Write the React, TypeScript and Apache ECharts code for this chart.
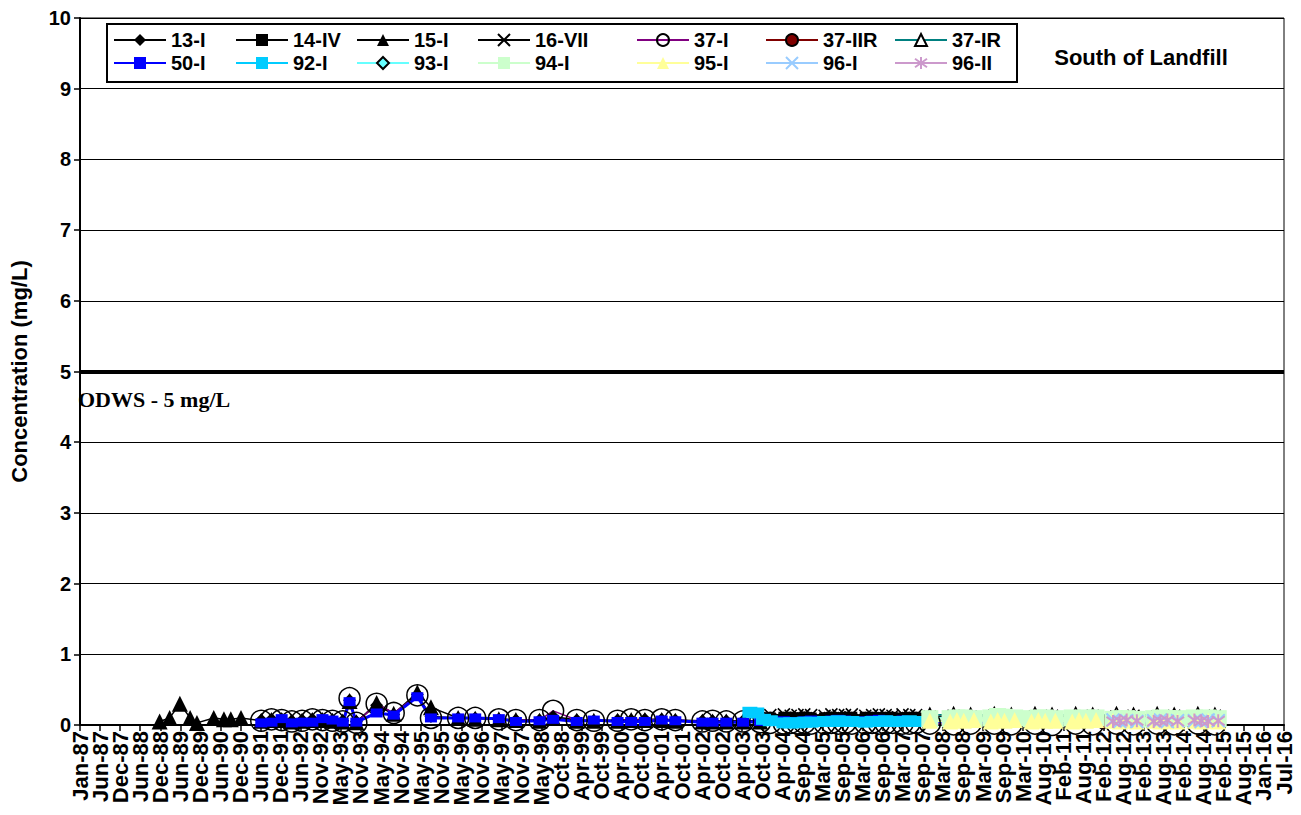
import React, { useEffect, useRef } from "react";
import * as echarts from "echarts";

// ---------- axis definitions ----------
const AXIS_ORIGIN = Date.UTC(1987, 0, 1);
const DAY_MS = 86400000;
const X_STEP_DAYS = 180;
const X_MAX_DAYS = 10800; // Jul-16
const Y_MAX = 10;
const ODWS_LIMIT = 5;
const xTickLabels = [
  "Jan-87", "Jun-87", "Dec-87", "Jun-88", "Dec-88", "Jun-89", "Dec-89", "Jun-90", "Dec-90", "Jun-91",
  "Dec-91", "Jun-92", "Nov-92", "May-93", "Nov-93", "May-94", "Nov-94", "May-95", "Nov-95", "May-96",
  "Nov-96", "May-97", "Nov-97", "May-98", "Oct-98", "Apr-99", "Oct-99", "Apr-00", "Oct-00", "Apr-01",
  "Oct-01", "Apr-02", "Oct-02", "Apr-03", "Oct-03", "Apr-04", "Sep-04", "Mar-05", "Sep-05", "Mar-06",
  "Sep-06", "Mar-07", "Sep-07", "Mar-08", "Sep-08", "Mar-09", "Sep-09", "Mar-10", "Aug-10", "Feb-11",
  "Aug-11", "Feb-12", "Aug-12", "Feb-13", "Aug-13", "Feb-14", "Aug-14", "Feb-15", "Aug-15", "Jan-16",
  "Jul-16",
];

// ---------- sampling dates ----------
const dates15Early = ["1988-12", "1989-03", "1989-06", "1989-09", "1989-11", "1990-04", "1990-07", "1990-09", "1990-12"];
const datesA = [
  "1991-06", "1991-09", "1991-12", "1992-03", "1992-06", "1992-09", "1992-12", "1993-03", "1993-06", "1993-08", "1993-10",
  "1994-04", "1994-09", "1995-04", "1995-08", "1996-04", "1996-09", "1997-04", "1997-09", "1998-04", "1998-08",
  "1999-03", "1999-08", "2000-03", "2000-07", "2000-11", "2001-04", "2001-08", "2002-04", "2002-07", "2002-11",
  "2003-04", "2003-09",
];
const dates92Early = ["2003-06", "2003-08", "2003-10"];
const datesB = [
  "2003-12", "2004-04", "2004-06", "2004-08", "2004-10", "2004-12", "2005-04", "2005-06", "2005-08", "2005-10",
  "2005-12", "2006-04", "2006-06", "2006-08", "2006-10", "2006-12", "2007-03", "2007-05", "2007-07",
];
const datesC = [
  "2007-11", "2008-05", "2008-07", "2008-09", "2008-12", "2009-05", "2009-07", "2009-09", "2009-12",
  "2010-05", "2010-07", "2010-09", "2010-12", "2011-05", "2011-07", "2011-09", "2011-12",
  "2012-05", "2012-07", "2012-09", "2012-12", "2013-05", "2013-07", "2013-09", "2013-12",
  "2014-05", "2014-07", "2014-09", "2014-12",
];
const datesC2 = [
  "2007-11", "2008-06", "2008-11", "2009-06", "2009-11", "2010-06", "2010-11", "2011-06", "2011-11",
  "2012-06", "2012-11", "2013-06", "2013-11", "2014-06", "2014-11",
];
const dates37IIR = ["2012-01", "2012-02"];
const datesD = [
  "2012-05", "2012-07", "2012-09", "2012-12", "2013-05", "2013-07", "2013-09", "2013-12",
  "2014-05", "2014-07", "2014-09", "2014-12",
];

// ---------- concentrations (mg/L) ----------
const v13I_A = [0.07, 0.08, 0.08, 0.06, 0.07, 0.08, 0.08, 0.07, 0.06, 0.35, 0.05, 0.28, 0.15, 0.43, 0.12, 0.1, 0.1, 0.08, 0.07, 0.07, 0.12, 0.07, 0.06, 0.07, 0.07, 0.08, 0.08, 0.07, 0.06, 0.06, 0.06, 0.06, 0.06];
const v13I_B = [0.09, 0.1, 0.1, 0.09, 0.1, 0.1, 0.1, 0.09, 0.1, 0.11, 0.1, 0.1, 0.09, 0.1, 0.1, 0.11, 0.1, 0.1, 0.09];
const v14IV_B = [0.1, 0.11, 0.1, 0.1, 0.11, 0.1, 0.1, 0.11, 0.1, 0.1, 0.11, 0.11, 0.1, 0.1, 0.11, 0.1, 0.1, 0.11, 0.1];
const v15I_Early = [0.05, 0.1, 0.3, 0.1, 0.03, 0.1, 0.08, 0.08, 0.1];
const v15I_A = [0.06, 0.07, 0.07, 0.05, 0.06, 0.07, 0.07, 0.06, 0.05, 0.34, 0.04, 0.31, 0.16, 0.46, 0.25, 0.1, 0.09, 0.08, 0.07, 0.06, 0.1, 0.06, 0.06, 0.06, 0.07, 0.07, 0.07, 0.06, 0.05, 0.05, 0.05, 0.05, 0.05];
const v16VII_B = [0.14, 0.15, 0.13, 0.14, 0.15, 0.14, 0.13, 0.15, 0.14, 0.14, 0.15, 0.13, 0.14, 0.15, 0.14, 0.13, 0.15, 0.14, 0.14];
const v16VII_C2 = [0.12, 0.13, 0.12, 0.13, 0.12, 0.12, 0.13, 0.12, 0.13, 0.12, 0.13, 0.12, 0.13, 0.12, 0.13];
const v37I_A = [0.06, 0.08, 0.07, 0.05, 0.06, 0.08, 0.07, 0.06, 0.05, 0.38, 0.03, 0.3, 0.17, 0.42, 0.1, 0.1, 0.1, 0.08, 0.07, 0.07, 0.2, 0.07, 0.06, 0.06, 0.08, 0.07, 0.08, 0.07, 0.05, 0.06, 0.05, 0.05, 0.04];
const v37I_B = [0.03, 0.02, 0.03, 0.02, 0.03, 0.02, 0.02, 0.03, 0.02, 0.03, 0.02, 0.02, 0.03, 0.02, 0.02, 0.03, 0.02, 0.02, 0.03];
const v37I_C2 = [0.02, 0.01, 0.02, 0.02, 0.01, 0.02, 0.0, 0.02, 0.01, 0.02, 0.01, 0.02, 0.01, 0.02, 0.01];
const v37IIR = [0.09, 0.03];
const v37IR_C2 = [0.14, 0.15, 0.14, 0.15, 0.14, 0.15, 0.14, 0.15, 0.14, 0.15, 0.14, 0.15, 0.14, 0.15, 0.14];
const v50I_A = [0.03, 0.04, 0.09, 0.03, 0.04, 0.04, 0.09, 0.07, 0.04, 0.33, 0.04, 0.17, 0.14, 0.4, 0.1, 0.1, 0.1, 0.09, 0.05, 0.06, 0.08, 0.05, 0.07, 0.05, 0.05, 0.05, 0.07, 0.06, 0.04, 0.04, 0.04, 0.04, 0.05];
const v50I_B = [0.05, 0.06, 0.05, 0.05, 0.06, 0.07, 0.06, 0.07, 0.08, 0.07, 0.06, 0.06, 0.07, 0.08, 0.07, 0.06, 0.07, 0.06, 0.06];
const v50I_C = [0.05, 0.05, 0.04, 0.05, 0.05, 0.04, 0.05, 0.05, 0.04, 0.05, 0.04, 0.05, 0.05, 0.04, 0.05, 0.05, 0.04, 0.05, 0.04, 0.05, 0.05, 0.04, 0.05, 0.05, 0.04, 0.05, 0.04, 0.05, 0.05];
const v92I_Early = [0.18, 0.17, 0.08];
const v92I_B = [0.06, 0.03, 0.03, 0.03, 0.04, 0.04, 0.05, 0.05, 0.06, 0.05, 0.05, 0.04, 0.05, 0.05, 0.06, 0.05, 0.05, 0.06, 0.05];
const v93I_C2 = [0.1, 0.11, 0.1, 0.12, 0.1, 0.11, 0.1, 0.11, 0.1, 0.12, 0.1, 0.11, 0.1, 0.11, 0.1];
const v94I_C = [0.09, 0.09, 0.1, 0.1, 0.09, 0.1, 0.12, 0.11, 0.1, 0.09, 0.1, 0.1, 0.09, 0.1, 0.09, 0.1, 0.1, 0.08, 0.09, 0.09, 0.08, 0.09, 0.1, 0.09, 0.09, 0.1, 0.09, 0.1, 0.09];
const v95I_C = [0.06, 0.05, 0.07, 0.06, 0.07, 0.05, 0.07, 0.06, 0.07, 0.05, 0.07, 0.06, 0.06, 0.05, 0.07, 0.06, 0.07, 0.06, 0.05, 0.06, 0.05, 0.06, 0.05, 0.06, 0.05, 0.06, 0.05, 0.06, 0.05];
const v96I_D = [0.07, 0.05, 0.06, 0.05, 0.06, 0.07, 0.05, 0.06, 0.06, 0.05, 0.07, 0.06];
const v96II_D = [0.05, 0.06, 0.07, 0.06, 0.05, 0.06, 0.07, 0.05, 0.07, 0.06, 0.05, 0.06];

const legendColumns = [
  ["13-I", "50-I"],
  ["14-IV", "92-I"],
  ["15-I", "93-I"],
  ["16-VII", "94-I"],
  ["37-I", "95-I"],
  ["37-IIR", "96-I"],
  ["37-IR", "96-II"],
];
const legendLefts = [113, 235, 356, 477, 636, 765, 894];

const X_SYMBOL = "path://M0,0L10,10M10,0L0,10";
const STAR_SYMBOL = "path://M0,1.5L10,8.5M10,1.5L0,8.5M5,0L5,10";

function toDays(s: string): number {
  const [y, m] = s.split("-").map(Number);
  return (Date.UTC(y, m - 1, 15) - AXIS_ORIGIN) / DAY_MS;
}

function zip(parts: [string[], number[]][]): [number, number][] {
  const out: [number, number][] = [];
  parts.forEach(([d, v]) => d.forEach((s, i) => out.push([toDays(s), v[i]])));
  return out;
}

type Def = {
  name: string;
  parts: [string[], number[]][];
  line: string;
  lineWidth?: number;
  symbol: string;
  size: number | number[];
  fill: string;
  border?: string;
  borderWidth?: number;
};

const defs: Def[] = [
  { name: "13-I", parts: [[datesA, v13I_A], [datesB, v13I_B]], line: "#000000", symbol: "diamond", size: 13, fill: "#000000" },
  { name: "14-IV", parts: [[datesB, v14IV_B]], line: "#000000", symbol: "rect", size: 11, fill: "#000000" },
  { name: "15-I", parts: [[dates15Early, v15I_Early], [datesA, v15I_A]], line: "#000000", symbol: "triangle", size: 16, fill: "#000000" },
  { name: "16-VII", parts: [[datesB, v16VII_B], [datesC2, v16VII_C2]], line: "#000000", symbol: X_SYMBOL, size: 12, fill: "rgba(0,0,0,0)", border: "#000000", borderWidth: 1.5 },
  { name: "37-I", parts: [[datesA, v37I_A], [datesB, v37I_B], [datesC2, v37I_C2]], line: "#800080", symbol: "circle", size: 21, fill: "rgba(0,0,0,0)", border: "#000000", borderWidth: 1.5 },
  { name: "37-IIR", parts: [[dates37IIR, v37IIR]], line: "#800000", symbol: "circle", size: 12, fill: "#800000", border: "#000000", borderWidth: 1 },
  { name: "37-IR", parts: [[datesC2, v37IR_C2]], line: "#008080", symbol: "triangle", size: 14, fill: "#ffffff", border: "#000000", borderWidth: 1.5 },
  { name: "50-I", parts: [[datesA, v50I_A], [datesB, v50I_B], [datesC, v50I_C]], line: "#0000ff", lineWidth: 3, symbol: "rect", size: [12, 9], fill: "#0000ff" },
  { name: "92-I", parts: [[dates92Early, v92I_Early], [datesB, v92I_B]], line: "#00ccff", lineWidth: 2, symbol: "rect", size: [15, 11], fill: "#00ccff" },
  { name: "93-I", parts: [[datesC2, v93I_C2]], line: "#66ffff", symbol: "diamond", size: 13, fill: "#66ffff", border: "#000000", borderWidth: 1 },
  { name: "94-I", parts: [[datesC, v94I_C]], line: "#ccffcc", lineWidth: 2, symbol: "rect", size: 17, fill: "#ccffcc" },
  { name: "95-I", parts: [[datesC, v95I_C]], line: "#ffff99", lineWidth: 2, symbol: "triangle", size: 16, fill: "#ffff99" },
  { name: "96-I", parts: [[datesD, v96I_D]], line: "#99ccff", lineWidth: 2, symbol: X_SYMBOL, size: 13, fill: "rgba(0,0,0,0)", border: "#99ccff", borderWidth: 2 },
  { name: "96-II", parts: [[datesD, v96II_D]], line: "#cc99cc", lineWidth: 2, symbol: STAR_SYMBOL, size: 13, fill: "rgba(0,0,0,0)", border: "#cc99cc", borderWidth: 2 },
];

const FONT = "Arial, 'Liberation Sans', sans-serif";

export default function App() {
  const ref = useRef<HTMLDivElement>(null);

  useEffect(() => {
    if (!ref.current) return;
    const chart = echarts.init(ref.current, undefined, { renderer: "svg" });

    const series: any[] = defs.map((d, i) => ({
      name: d.name,
      type: "line",
      xAxisIndex: 0,
      data: zip(d.parts),
      symbol: d.symbol,
      symbolSize: d.size,
      showAllSymbol: true,
      lineStyle: { color: d.line, width: d.lineWidth ?? 1.5 },
      itemStyle: {
        color: d.fill,
        borderColor: d.border ?? d.fill,
        borderWidth: d.border ? d.borderWidth ?? 1 : 0,
      },
      emphasis: { disabled: true },
      z: 3,
      ...(i === 0
        ? {
            markLine: {
              silent: true,
              symbol: ["none", "none"],
              label: { show: false },
              lineStyle: { color: "#000000", width: 4, type: "solid" },
              data: [{ yAxis: ODWS_LIMIT }],
              z: 2,
            },
          }
        : {}),
    }));

    const legends = legendColumns.map((col, i) => ({
      data: col,
      orient: "vertical",
      left: legendLefts[i],
      top: 30,
      padding: 0,
      itemGap: 3,
      itemWidth: 52,
      itemHeight: 15,
      selectedMode: false,
      textStyle: { fontFamily: FONT, fontWeight: "bold", fontSize: 20, color: "#000000", padding: [0, 0, 0, 0] },
    }));

    chart.setOption({
      animation: false,
      backgroundColor: "#ffffff",
      grid: { left: 71, top: 18, width: 1213, height: 707, show: true, borderColor: "#000000", borderWidth: 1 },
      legend: legends,
      xAxis: [
        {
          type: "value",
          position: "bottom",
          min: 0,
          max: X_MAX_DAYS,
          interval: X_STEP_DAYS,
          axisLine: { show: true, onZero: false, lineStyle: { color: "#000000", width: 2 } },
          axisTick: { show: true, length: 6, lineStyle: { color: "#000000", width: 1.5 } },
          splitLine: { show: false },
          axisLabel: { show: false },
        },
        {
          type: "category",
          position: "bottom",
          data: xTickLabels,
          boundaryGap: false,
          axisLine: { show: false },
          axisTick: { show: false },
          splitLine: { show: false },
          axisLabel: {
            interval: 0,
            rotate: 90,
            margin: 6,
            fontFamily: FONT,
            fontWeight: "bold",
            fontSize: 22,
            color: "#000000",
          },
        },
      ],
      yAxis: {
        type: "value",
        min: 0,
        max: Y_MAX,
        interval: 1,
        name: "Concentration (mg/L)",
        nameLocation: "middle",
        nameGap: 50,
        nameTextStyle: { fontFamily: FONT, fontWeight: "bold", fontSize: 22, color: "#000000" },
        axisLine: { show: true, lineStyle: { color: "#000000", width: 2 } },
        axisTick: { show: true, length: 6, lineStyle: { color: "#000000", width: 1.5 } },
        splitLine: { show: true, lineStyle: { color: "#000000", width: 1 } },
        axisLabel: { margin: 9, fontFamily: FONT, fontWeight: "bold", fontSize: 20, color: "#000000" },
      },
      graphic: [
        {
          type: "rect",
          shape: { x: 107, y: 24, width: 910, height: 58 },
          style: { fill: "#ffffff", stroke: "#000000", lineWidth: 2 },
          z: 0,
          silent: true,
        },
        {
          type: "text",
          x: 1141,
          y: 57,
          style: {
            text: "South of Landfill",
            font: "bold 22px Arial, 'Liberation Sans', sans-serif",
            fill: "#000000",
            textAlign: "center",
            textVerticalAlign: "middle",
          },
          z: 10,
        },
        {
          type: "text",
          x: 78,
          y: 399,
          style: {
            text: "ODWS - 5 mg/L",
            font: "bold 22px 'Times New Roman', 'Liberation Serif', serif",
            fill: "#000000",
            textAlign: "left",
            textVerticalAlign: "middle",
          },
          z: 10,
        },
      ],
      series,
    });

    return () => chart.dispose();
  }, []);

  return (
    <div
      ref={ref}
      style={{ position: "absolute", left: 0, top: 0, width: 1301, height: 815, background: "#ffffff" }}
    />
  );
}
